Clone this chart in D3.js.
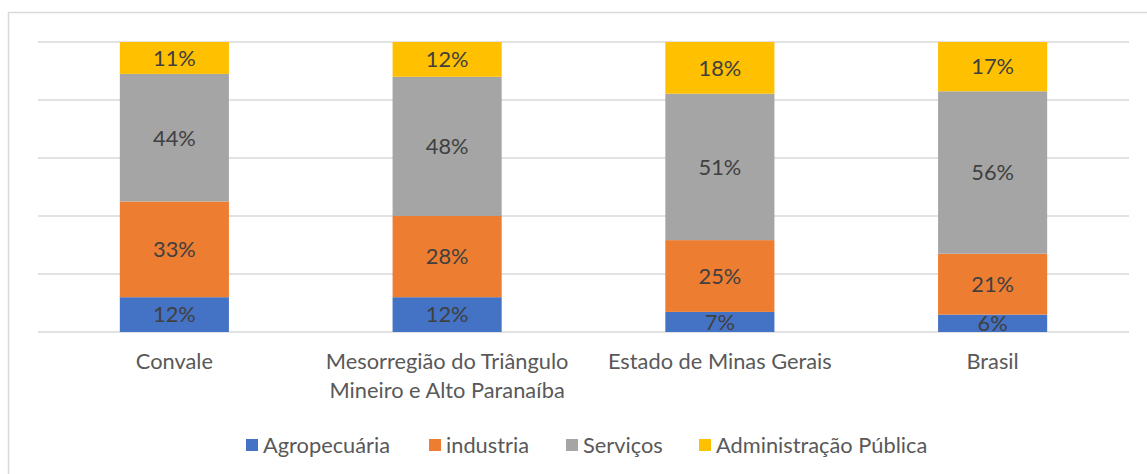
<!DOCTYPE html>
<html>
<head>
<meta charset="utf-8">
<script src="https://cdn.jsdelivr.net/npm/d3@7"></script>
<style>
  body { margin: 0; background: #fff; }
  svg text { font-family: Lato, "Open Sans", sans-serif; }
</style>
</head>
<body>
<div id="chart"></div>
<script>
// data
var categories = ["Convale", "Mesorregião do Triângulo|Mineiro e Alto Paranaíba", "Estado de Minas Gerais", "Brasil"];
var seriesNames = ["Agropecuária", "industria", "Serviços", "Administração Pública"];
var agropecuaria = [12, 12, 7, 6];
var industria = [33, 28, 25, 21];
var servicos = [44, 48, 51, 56];
var administracao = [11, 12, 18, 17];
var yTicks = [0, 0.2, 0.4, 0.6, 0.8, 1];

var colors = ["#4472c4", "#ed7d31", "#a5a5a5", "#ffc000"];
var width = 1147, height = 474;
var margin = {left: 38, right: 18, top: 42, bottom: 142};
var fontSize = "21.8px";

var rows = categories.map((c, i) => ({
    cat: c,
    "Agropecuária": agropecuaria[i],
    "industria": industria[i],
    "Serviços": servicos[i],
    "Administração Pública": administracao[i]
}));

var svg = d3.select("#chart").append("svg")
    .attr("width", width)
    .attr("height", height);

// frame
svg.append("rect")
    .attr("x", 8.5).attr("y", 12.5)
    .attr("width", width + 20).attr("height", height + 20)
    .attr("fill", "none")
    .attr("stroke", "#d9d9d9")
    .attr("stroke-width", 1.5);

var x = d3.scaleBand()
    .domain(categories)
    .range([margin.left, width - margin.right])
    .paddingInner(0.6)
    .paddingOuter(0.3);

var y = d3.scaleLinear()
    .domain([0, 1])
    .range([height - margin.bottom, margin.top]);

// gridlines
svg.append("g")
    .selectAll("line")
    .data(yTicks)
    .enter()
    .append("line")
    .attr("x1", margin.left).attr("x2", width - margin.right)
    .attr("y1", d => y(d)).attr("y2", d => y(d))
    .attr("stroke", "#d9d9d9")
    .attr("stroke-width", 1.5);

var stack = d3.stack()
    .keys(seriesNames)
    .offset(d3.stackOffsetExpand);
var layers = stack(rows);

var g = svg.append("g");
layers.forEach((layer, li) => {
    var lg = g.append("g");
    lg.selectAll("rect")
        .data(layer)
        .enter()
        .append("rect")
        .attr("x", d => x(d.data.cat))
        .attr("width", x.bandwidth())
        .attr("y", d => y(d[1]))
        .attr("height", d => y(d[0]) - y(d[1]))
        .attr("fill", colors[li]);
    lg.selectAll("text")
        .data(layer)
        .enter()
        .append("text")
        .attr("x", d => x(d.data.cat) + x.bandwidth() / 2)
        .attr("y", d => (y(d[0]) + y(d[1])) / 2)
        .attr("dy", "0.36em")
        .attr("text-anchor", "middle")
        .attr("font-size", fontSize)
        .attr("fill", "#404040")
        .text(d => d.data[layer.key] + "%");
});

// category labels
var labels = svg.append("g")
    .selectAll("text")
    .data(categories)
    .enter()
    .append("text")
    .attr("x", d => x(d) + x.bandwidth() / 2)
    .attr("y", 369)
    .attr("text-anchor", "middle")
    .attr("font-size", fontSize)
    .attr("fill", "#595959");
labels.selectAll("tspan")
    .data(d => d.split("|"))
    .enter()
    .append("tspan")
    .attr("x", function() { return this.parentNode.getAttribute("x"); })
    .attr("dy", (d, i) => i == 0 ? 0 : 28.5)
    .text(d => d);

// legend
var legendX = [246, 429, 566, 699];
var legend = svg.append("g")
    .selectAll("g")
    .data(seriesNames)
    .enter()
    .append("g")
    .attr("transform", (d, i) => "translate(" + legendX[i] + ",445)");
legend.append("rect")
    .attr("x", 0).attr("y", -6)
    .attr("width", 12).attr("height", 12)
    .attr("fill", (d, i) => colors[i]);
legend.append("text")
    .attr("x", 17)
    .attr("dy", "0.36em")
    .attr("font-size", fontSize)
    .attr("fill", "#595959")
    .text(d => d);
</script>
</body>
</html>
